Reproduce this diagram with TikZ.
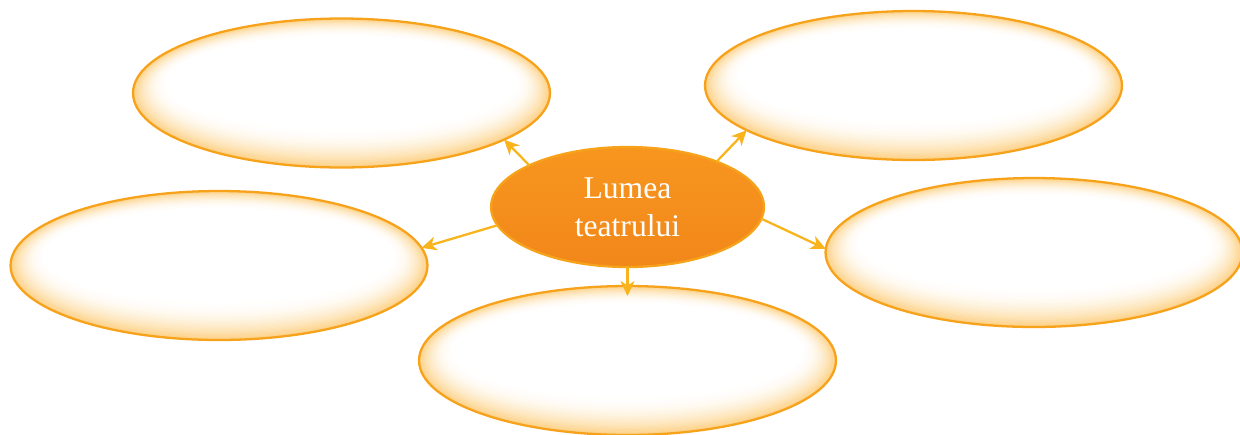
\documentclass[tikz,border=0pt]{standalone}
\usepackage{fontspec}
\setmainfont{Liberation Serif}
\usetikzlibrary{positioning,shapes,arrows.meta}
\definecolor{rimorange}{HTML}{F7A21B}
\definecolor{arroworange}{HTML}{F9B31C}
\definecolor{gloworange}{HTML}{FBAE2A}
\definecolor{hubtop}{HTML}{F7961F}
\definecolor{hubbottom}{HTML}{F2871A}
% soft orange rim inside a bubble, heavier towards the bottom
\newcommand{\glowring}[2]{%
  \foreach \k in {0,...,16}{
    \pgfmathsetmacro{\ringfrac}{\k/16}
    \pgfmathsetmacro{\ringpct}{55*(1-\ringfrac)^2}
    \fill[gloworange!\ringpct!white] (#1,{#2-10*\ringfrac}) ellipse [x radius={208.5-34*\ringfrac}, y radius={74.5-28*\ringfrac}];
  }}

\begin{document}
\begin{tikzpicture}
    [x=0.02cm,y=-0.02cm,every node/.style={ellipse, inner sep=0pt, outer sep=0pt},
     bubble/.style={draw=rimorange, line width=1.3pt, minimum width=8.34cm, minimum height=2.98cm},
     hub/.style={draw=rimorange, line width=1.3pt, top color=hubtop, bottom color=hubbottom, minimum width=5.46cm, minimum height=2.4cm, text=white, align=center, font=\fontsize{18}{21.6}\selectfont},
     link/.style={-{Stealth[length=3mm,width=2.8mm,inset=0.9mm]}, draw=arroworange, fill=arroworange, line width=1.3pt}]
  \useasboundingbox (0,0) rectangle (1240,434);
  \foreach \name/\cx/\cy in {nw/341.5/93, ne/913.5/85.5, w/219/265.5, e/1034/252.5, s/627.5/360.5}{
    \glowring{\cx}{\cy}
    \node[bubble] (\name) at (\cx,\cy) {};
  }
  \node[hub] (hub) at (627.5,207) {Lumea\\teatrului};

  \foreach \from/\to/\reach in {hub.157/nw.-16/0pt, hub.27/ne.195/0pt, hub.188/w.5/0pt, hub.-5/e.179/0pt, hub.-90/s.90/-0.2cm}
    \draw[link, shorten >=\reach] (\from) -- (\to);
\end{tikzpicture}
\end{document}
